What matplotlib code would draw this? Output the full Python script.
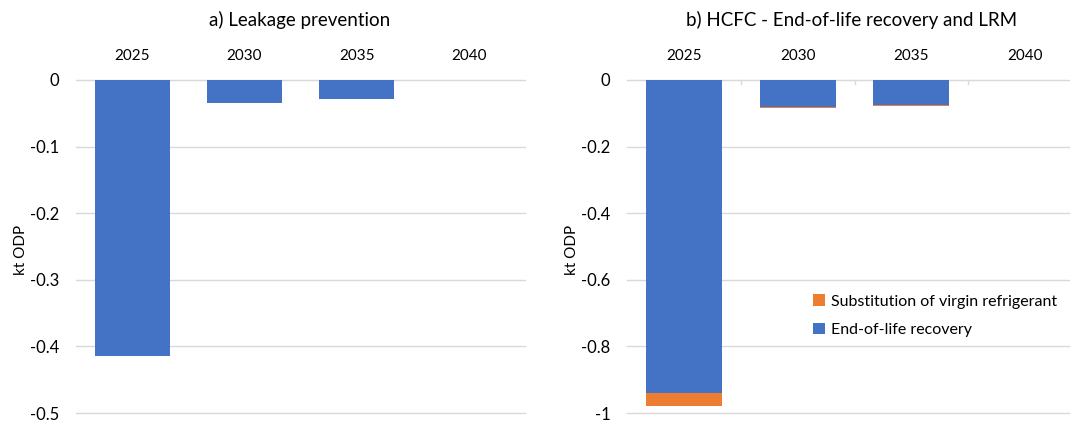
import matplotlib
matplotlib.use("Agg")
import matplotlib.pyplot as plt
import numpy as np

plt.rcParams["font.family"] = ["Lato", "DejaVu Sans"]

# ------------------------------------------------------------
# Data
# ------------------------------------------------------------
years = ["2025", "2030", "2035", "2040"]

leakage = [-0.414, -0.035, -0.029, 0.0]

eol_recovery = [-0.940, -0.081, -0.076, 0.0]
substitution = [-0.038, -0.002, -0.003, 0.0]

BLUE = "#4472C4"
ORANGE = "#ED7D31"
GRID = "#D9D9D9"

fig = plt.figure(figsize=(10.70, 4.22), dpi=100)
W, H = 1070, 422

# axes positions in pixels (left, top, right, bottom)
axA = fig.add_axes([76 / W, 1 - 413 / H, (525 - 76) / W, (413 - 80) / H])
axB = fig.add_axes([627 / W, 1 - 413 / H, (1082 - 627) / W, (413 - 80) / H])

x = np.arange(len(years))
width = 0.67


def style(ax, ylim, yticks, ylabels):
    ax.set_xlim(-0.5, len(years) - 0.5)
    ax.set_ylim(*ylim)
    ax.set_yticks(yticks)
    ax.set_yticklabels(ylabels, fontsize=12)
    ax.yaxis.grid(True, color=GRID, linewidth=1)
    for gl in ax.get_ygridlines():
        gl.set_clip_on(False)
    ax.set_axisbelow(True)
    for s in ax.spines.values():
        s.set_visible(False)
    ax.tick_params(axis="y", length=0, pad=12)
    ax.xaxis.tick_top()
    ax.set_xticks(x)
    ax.set_xticklabels(years, fontsize=11)
    ax.tick_params(axis="x", length=0, pad=12)
    ax.set_ylabel("kt ODP", fontsize=11)


# ------------------------------------------------------------
# a) Leakage prevention
# ------------------------------------------------------------
axA.bar(x, leakage, width=width, color=BLUE, linewidth=0)
style(axA, (-0.5, 0), [0, -0.1, -0.2, -0.3, -0.4, -0.5],
      ["0", "-0.1", "-0.2", "-0.3", "-0.4", "-0.5"])
axA.yaxis.set_label_coords(-0.107, 0.49)
fig.text(300 / W, 1 - 20 / H, "a) Leakage prevention", fontsize=13.5,
         ha="center", va="center")

# ------------------------------------------------------------
# b) HCFC - End-of-life recovery and LRM
# ------------------------------------------------------------
axB.bar(x, eol_recovery, width=width, color=BLUE, linewidth=0,
        label="End-of-life recovery")
axB.bar(x, substitution, width=width, bottom=eol_recovery, color=ORANGE,
        linewidth=0, label="Substitution of virgin refrigerant")
style(axB, (-1, 0), [0, -0.2, -0.4, -0.6, -0.8, -1.0],
      ["0", "-0.2", "-0.4", "-0.6", "-0.8", "-1"])
axB.yaxis.set_label_coords(-0.105, 0.49)
# small category separator ticks on the zero line
for b in x[:-1] + 0.5:
    axB.plot([b, b], [0, -0.012], color=GRID, linewidth=1, clip_on=False)
fig.text(852 / W, 1 - 20 / H, "b) HCFC - End-of-life recovery and LRM",
         fontsize=13.5, ha="center", va="center")

handles, labels = axB.get_legend_handles_labels()
axB.legend(handles[::-1], labels[::-1], loc="upper left",
           bbox_to_anchor=(180 / 455, 1 - 208 / 333), frameon=False,
           fontsize=11.5, handlelength=0.7, handleheight=0.7,
           handletextpad=0.4, labelspacing=0.9, borderaxespad=0)

fig.savefig("out.png", dpi=100)
